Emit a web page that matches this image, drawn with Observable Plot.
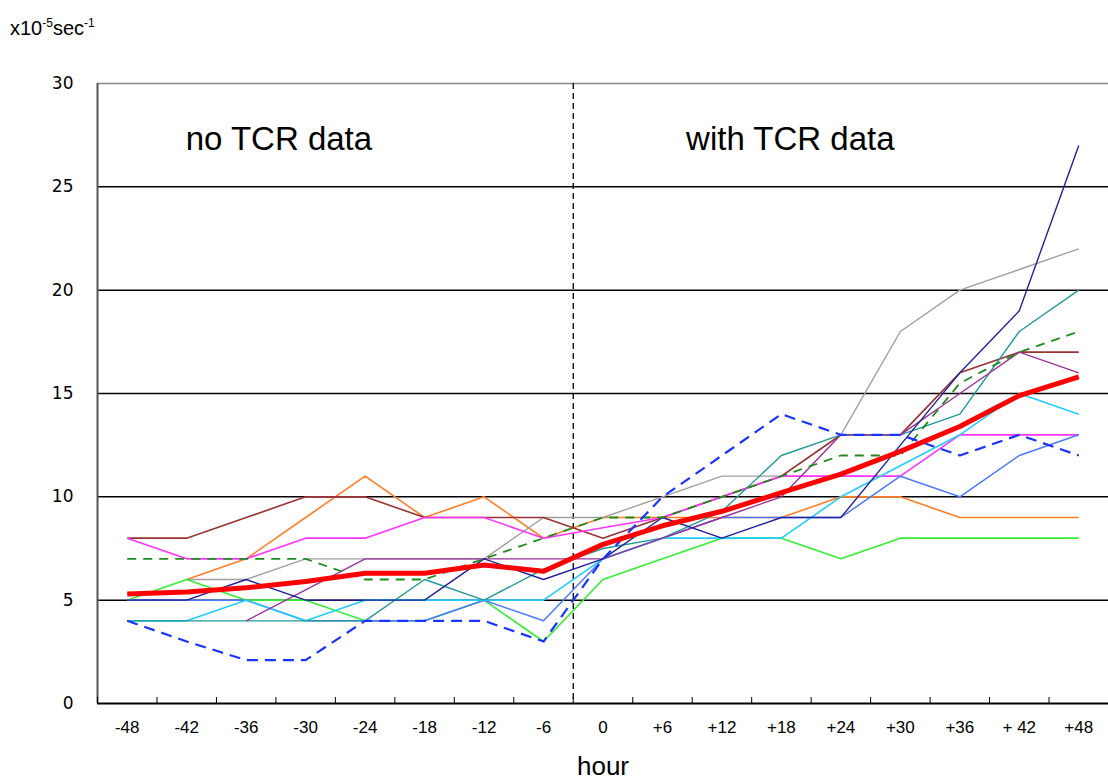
<!DOCTYPE html>
<html>
<head>
<meta charset="utf-8">
<script src="https://cdn.jsdelivr.net/npm/d3@7"></script>
<script src="https://cdn.jsdelivr.net/npm/@observablehq/plot@0.6"></script>
<style>
  html, body { margin: 0; padding: 0; background: #fff; }
  #wrap { position: relative; width: 1108px; height: 783px; font-family: "Liberation Sans", Arial, sans-serif; }
  #unit { position: absolute; left: 10px; top: 16px; font-size: 20px; color: #000; }
  #unit sup { font-size: 12px; }
</style>
</head>
<body>
<div id="wrap"><div id="unit">x10<sup>-5</sup>sec<sup>-1</sup></div></div>
<script>
// ---- data ----
const hours  = [-48,-42,-36,-30,-24,-18,-12,-6,0,6,12,18,24,30,36,42,48];
const hourLabels = ["-48","-42","-36","-30","-24","-18","-12","-6","0","+6","+12","+18","+24","+30","+36","+ 42","+48"];
const yTicks = [0,5,10,15,20,25,30];

const maroon      = [8,8,9,10,10,9,9,9,8,9,10,11,13,13,16,17,17];
const magenta     = [8,7,7,8,8,9,9,8,8.5,9,10,11,11,11,13,13,13];
const darkGreen   = [7,7,7,7,6,6,7,8,9,9,10,11,12,12,15.5,17,18];
const orange      = [null,6,7,9,11,9,10,8,9,9,9,9,10,10,9,9,9];
const gray        = [null,6,6,7,7,7,7,9,9,10,11,11,13,18,20,21,22];
const green       = [5,6,5,5,4,4,5,3,6,7,8,8,7,8,8,8,8];
const cornflower  = [5,5,5,4,4,4,5,4,7,8,9,9,9,11,10,12,13];
const cyan        = [4,4,5,4,5,5,5,5,7,8,8,8,10,11.5,13,15,14];
const teal        = [4,4,4,4,4,6,5,6.5,7.5,8,9.3,12,13,13,14,18,20];
const purple      = [null,null,4,5.5,7,7,7,7,7,8,9,10,13,13,15,17,16];
const navy        = [5,5,6,5,5,5,7,6,7,9,8,9,9,12.5,16,19,27];
const blueDashed  = [4,3,2.1,2.1,4,4,4,3,7,10,12,14,13,13,12,13,12];
const average     = [5.3,5.4,5.6,5.9,6.3,6.3,6.7,6.4,7.7,8.6,9.3,10.2,11.1,12.2,13.4,14.9,15.8];

const annotations = [
  {text: "no TCR data", hour: -32.7, value: 27.3},
  {text: "with TCR data", hour: 18.9, value: 27.3}
];
const splitHour = -3; // boundary between -6 and 0 categories

// ---- styling of series ----
const series = [
  {values: orange,     color: "#ff7f27", width: 1.6},
  {values: gray,       color: "#a0a0a0", width: 1.4},
  {values: maroon,     color: "#993333", width: 1.6},
  {values: magenta,    color: "#ff33ff", width: 1.6},
  {values: green,      color: "#33ee33", width: 1.6},
  {values: cornflower, color: "#4d79ff", width: 1.5},
  {values: cyan,       color: "#22ccff", width: 1.6},
  {values: teal,       color: "#229999", width: 1.4},
  {values: purple,     color: "#993399", width: 1.4},
  {values: navy,       color: "#22229a", width: 1.4},
  {values: darkGreen,  color: "#1f8a1f", width: 1.8, dash: "9,7"},
  {values: blueDashed, color: "#1a33ff", width: 2.2, dash: "11,7"},
  {values: average,    color: "#ff0000", width: 5}
];

const boundaries = hours.slice(0, -1).map((h, i) => (h + hours[i + 1]) / 2)
  .concat([hours[0] - 3]);

const lineMarks = series.map(s => Plot.line(
  hours.map((h, i) => ({hour: h, value: s.values[i]})),
  {x: "hour", y: "value", stroke: s.color, strokeWidth: s.width,
   strokeDasharray: s.dash, strokeLinejoin: "round", strokeLinecap: "butt"}
));

const labelOf = new Map(hours.map((h, i) => [h, hourLabels[i]]));

const chart = Plot.plot({
  width: 1108,
  height: 783,
  marginLeft: 97,
  marginRight: 0,
  marginTop: 83,
  marginBottom: 80,
  style: {fontFamily: "'Liberation Sans', Arial, sans-serif", background: "#fff", color: "#000"},
  x: {type: "linear", domain: [-51, 51]},
  y: {domain: [0, 30]},
  marks: [
    Plot.ruleY(yTicks.filter(v => v > 0 && v < 30), {stroke: "#000", strokeWidth: 1.5}),
    Plot.ruleY([30], {stroke: "#888", strokeWidth: 1.5}),
    Plot.ruleX([splitHour], {stroke: "#000", strokeWidth: 1.3, strokeDasharray: "6,4"}),
    ...lineMarks,
    Plot.ruleY([0], {stroke: "#000", strokeWidth: 2}),
    Plot.ruleX([-51], {stroke: "#555", strokeWidth: 2}),
    Plot.axisX(boundaries, {tickSize: -6, tickFormat: () => "", label: null, stroke: "#000"}),
    Plot.axisX(hours, {tickSize: 0, tickPadding: 17, tickFormat: d => labelOf.get(d),
      fontSize: 17, fontFamily: "'Liberation Sans Narrow', 'Arial Narrow', 'Liberation Sans', sans-serif",
      label: "hour", labelAnchor: "center", labelArrow: "none", labelOffset: 71}),
    Plot.axisY(yTicks, {tickSize: 0, tickPadding: 24, fontSize: 17, label: null,
      fontFamily: "'DejaVu Sans', sans-serif"}),
    Plot.text(annotations, {x: "hour", y: "value", text: "text", fontSize: 33, fill: "#000"})
  ]
});
document.getElementById("wrap").appendChild(chart);
chart.querySelectorAll("g[aria-label='x-axis label'] text").forEach(t => { t.style.fontSize = "26px"; t.setAttribute("font-size", 26); });
</script>
</body>
</html>
